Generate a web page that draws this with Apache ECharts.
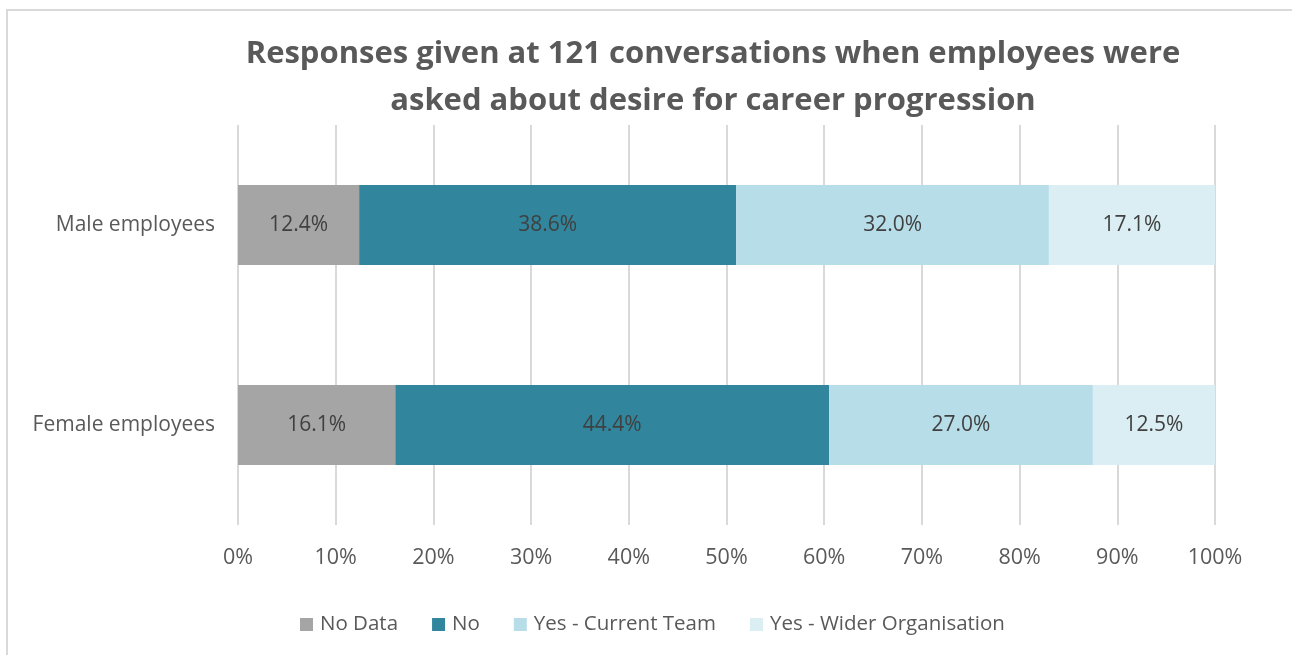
<!DOCTYPE html>
<html>
<head>
<meta charset="utf-8">
<script src="https://cdn.jsdelivr.net/npm/echarts@6/dist/echarts.min.js"></script>
<style>
  html, body { margin: 0; padding: 0; background: #fff; }
  #chart { width: 1292px; height: 655px; }
</style>
</head>
<body>
<div id="chart"></div>
<script>
// Share of responses per employee group (percent)
const categories = ['Male employees', 'Female employees'];
const seriesNames = ['No Data', 'No', 'Yes - Current Team', 'Yes - Wider Organisation'];
const noData = [12.4, 16.1];
const no = [38.6, 44.4];
const yesCurrentTeam = [32.0, 27.0];
const yesWiderOrg = [17.1, 12.5];
const xTicks = [0, 10, 20, 30, 40, 50, 60, 70, 80, 90, 100];

const colors = ['#A5A5A5', '#31859C', '#B7DDE8', '#DAEEF3'];
const values = [noData, no, yesCurrentTeam, yesWiderOrg];
const font = '"Open Sans", "Noto Sans", sans-serif';

const chart = echarts.init(document.getElementById('chart'));
chart.setOption({
  animation: false,
  backgroundColor: '#fff',
  title: {
    text: 'Responses given at 121 conversations when employees were\nasked about desire for career progression',
    left: 708,
    top: 26,
    textAlign: 'center',
    textStyle: {
      fontFamily: font,
      fontSize: 31,
      fontWeight: 'bold',
      color: '#595959',
      lineHeight: 47
    }
  },
  legend: {
    bottom: 15,
    left: 295,
    itemWidth: 13,
    itemHeight: 13,
    itemGap: 34,
    icon: 'rect',
    textStyle: { fontFamily: font, fontSize: 20.5, color: '#595959', padding: [0, 0, 0, 2] },
    data: seriesNames
  },
  grid: { left: 238, right: 77, top: 125, bottom: 130, containLabel: false },
  xAxis: {
    type: 'value',
    min: xTicks[0],
    max: xTicks[xTicks.length - 1],
    interval: 10,
    axisLine: { show: false },
    axisTick: { show: false },
    splitLine: { lineStyle: { color: '#D9D9D9', width: 2 } },
    axisLabel: {
      margin: 22,
      fontFamily: font,
      fontSize: 21.5,
      color: '#595959',
      formatter: v => v + '%'
    }
  },
  yAxis: {
    type: 'category',
    inverse: true,
    data: categories,
    axisLine: { show: false },
    axisTick: { show: false },
    axisLabel: { margin: 23, fontFamily: font, fontSize: 21, color: '#595959' }
  },
  series: seriesNames.map((name, i) => ({
    name,
    type: 'bar',
    stack: 'total',
    barWidth: 80,
    itemStyle: { color: colors[i] },
    label: {
      show: true,
      position: 'inside',
      fontFamily: font,
      fontSize: 21,
      color: '#404040',
      formatter: p => p.value.toFixed(1) + '%'
    },
    data: values[i]
  })),
  graphic: [{
    type: 'rect',
    shape: { x: 7, y: 10, width: 1400, height: 700 },
    style: { fill: 'none', stroke: '#D9D9D9', lineWidth: 2 },
    silent: true,
    z: -1
  }]
});
</script>
</body>
</html>
